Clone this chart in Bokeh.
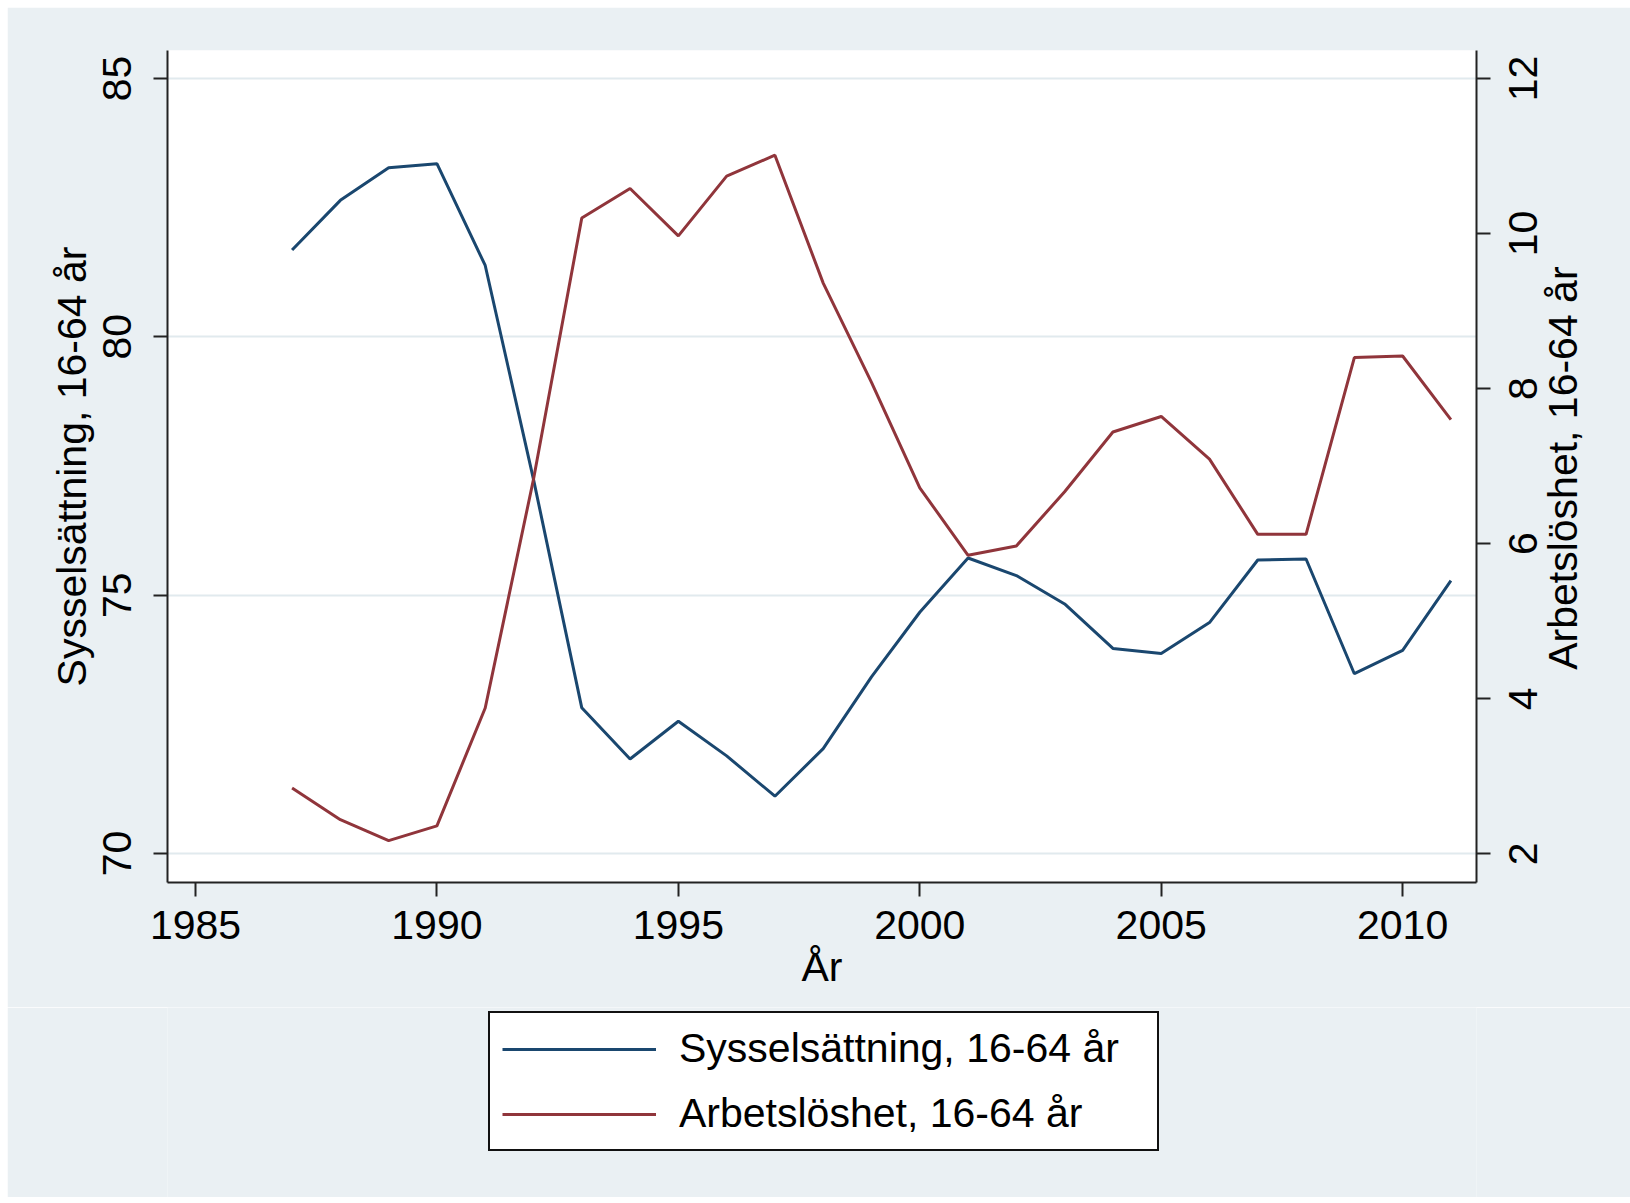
import math
from bokeh.plotting import figure
from bokeh.layouts import column
from bokeh.models import Range1d, LinearAxis, Legend, LegendItem, FixedTicker
from bokeh.embed import file_html
from bokeh.resources import INLINE

years = list(range(1987, 2012))
sysselsattning = [81.68, 82.64, 83.27, 83.35, 81.38, 77.24, 72.82, 71.83, 72.56, 71.89,
                  71.11, 72.03, 73.42, 74.67, 75.72, 75.38, 74.83, 73.97, 73.87, 74.47,
                  75.68, 75.70, 73.48, 73.93, 75.28]
arbetsloshet = [2.85, 2.44, 2.17, 2.36, 3.88, 6.83, 10.20, 10.58, 9.97, 10.74,
                11.01, 9.36, 8.08, 6.72, 5.85, 5.97, 6.67, 7.44, 7.64, 7.09,
                6.12, 6.12, 8.40, 8.42, 7.60]

x_ticks = [1985, 1990, 1995, 2000, 2005, 2010]
left_ticks = [70, 75, 80, 85]
right_ticks = [2, 4, 6, 8, 10, 12]

label_left = "Sysselsättning, 16-64 år"
label_right = "Arbetslöshet, 16-64 år"
label_x = "År"

BG = "#eaf0f3"
GRID = "#e1eaee"
BLUE = "#1a476f"
RED = "#90353b"
FONT = "Liberation Sans"
FS = "41px"
FONT_PX = 41
DIGIT_EM = 0.556          # Liberation Sans digit advance
RIGHT_PX_PER_UNIT = 832 / (12.36 - 1.63)

p = figure(frame_width=1309, frame_height=832, output_backend="svg", toolbar_location=None,
           x_range=Range1d(1984.42, 2011.53), y_range=Range1d(69.44, 85.54),
           min_border_left=160, min_border_right=154, min_border_top=43,
           min_border_bottom=125)
p.extra_y_ranges = {"right": Range1d(1.63, 12.36)}

p.background_fill_color = "white"
p.border_fill_color = BG
p.outline_line_color = None

p.xgrid.visible = False
p.ygrid.grid_line_color = GRID
p.ygrid.grid_line_width = 2
p.ygrid.ticker = FixedTicker(ticks=left_ticks)

p.line(years, sysselsattning, line_color=BLUE, line_width=3)
p.line(years, arbetsloshet, line_color=RED, line_width=3, y_range_name="right")

def style(ax, ticks, title):
    ax.ticker = FixedTicker(ticks=ticks)
    if title:
        ax.axis_label = title
    ax.axis_label_text_font = FONT
    ax.axis_label_text_font_size = FS
    ax.axis_label_text_font_style = "normal"
    ax.axis_label_text_color = "black"
    ax.major_label_text_font = FONT
    ax.major_label_text_font_size = FS
    ax.major_label_text_color = "black"
    ax.axis_line_color = "#222222"
    ax.axis_line_width = 2
    ax.major_tick_line_color = "#222222"
    ax.major_tick_line_width = 2
    ax.major_tick_out = 14
    ax.major_tick_in = 0
    ax.minor_tick_line_color = None

style(p.xaxis[0], x_ticks, label_x)
style(p.yaxis[0], left_ticks, label_left)

p.xaxis[0].major_label_standoff = 14
p.xaxis[0].axis_label_standoff = 2
p.yaxis[0].major_label_orientation = "vertical"
p.yaxis[0].major_label_standoff = 22
p.yaxis[0].axis_label_standoff = 6

# right axis: line + tick marks only
raxis = LinearAxis(y_range_name="right")
style(raxis, right_ticks, None)
raxis.major_label_text_font_size = "1px"
raxis.major_label_text_alpha = 0
raxis.major_label_standoff = 0
p.add_layout(raxis, "right")

# right tick labels, reading bottom-to-top (start-aligned, so shift by half length)
def half_len_units(text):
    return len(text) * DIGIT_EM * FONT_PX / 2 / RIGHT_PX_PER_UNIT

r_label_pos = [round(v - half_len_units(str(v)), 4) for v in right_ticks]
rlabels = LinearAxis(y_range_name="right")
rlabels.ticker = FixedTicker(ticks=r_label_pos)
rlabels.major_label_overrides = {pos: str(v) for pos, v in zip(r_label_pos, right_ticks)}
rlabels.major_label_orientation = math.pi / 2
rlabels.major_label_text_font = FONT
rlabels.major_label_text_font_size = FS
rlabels.major_label_text_color = "black"
rlabels.major_label_standoff = 33
rlabels.axis_line_color = None
rlabels.major_tick_line_color = None
rlabels.minor_tick_line_color = None
rlabels.major_tick_out = 0
rlabels.major_tick_in = 0
p.add_layout(rlabels, "right")

# right-hand title, reading bottom-to-top
title_len_px = 440
title_pos = round(7.21 - title_len_px / 2 / RIGHT_PX_PER_UNIT, 4)
rtitle = LinearAxis(y_range_name="right")
rtitle.ticker = FixedTicker(ticks=[title_pos])
rtitle.major_label_overrides = {title_pos: label_right}
rtitle.major_label_orientation = math.pi / 2
rtitle.major_label_text_font = FONT
rtitle.major_label_text_font_size = FS
rtitle.major_label_text_color = "black"
rtitle.major_label_standoff = 9
rtitle.axis_line_color = None
rtitle.major_tick_line_color = None
rtitle.minor_tick_line_color = None
rtitle.major_tick_out = 0
rtitle.major_tick_in = 0
p.add_layout(rtitle, "right")

# legend panel below the plot
pl = figure(width=1623, height=190, output_backend="svg", toolbar_location=None,
            x_range=Range1d(0, 1), y_range=Range1d(0, 1), min_border=0)
pl.axis.visible = False
pl.grid.visible = False
pl.outline_line_color = None
pl.background_fill_color = BG
pl.border_fill_color = BG
d1 = pl.line(x=[5, 6], y=[5, 6], line_color=BLUE, line_width=3)
d2 = pl.line(x=[5, 6], y=[5, 6], line_color=RED, line_width=3)

legend = Legend(items=[LegendItem(label=label_left, renderers=[d1]),
                       LegendItem(label=label_right, renderers=[d2])],
                location=(321, 46), orientation="vertical")
legend.label_text_font = FONT
legend.label_text_font_size = FS
legend.label_text_color = "black"
legend.glyph_width = 154
legend.glyph_height = 40
legend.label_standoff = 23
legend.label_width = 466
legend.spacing = 18
legend.padding = 12
legend.margin = 0
legend.border_line_color = "#111111"
legend.border_line_alpha = 1
legend.border_line_width = 2
legend.background_fill_color = "white"
legend.background_fill_alpha = 1
pl.add_layout(legend, "center")

layout = column(p, pl, spacing=0)
layout.margin = (7, 0, 0, 7)

open("out.html", "w").write(file_html(layout, INLINE))
